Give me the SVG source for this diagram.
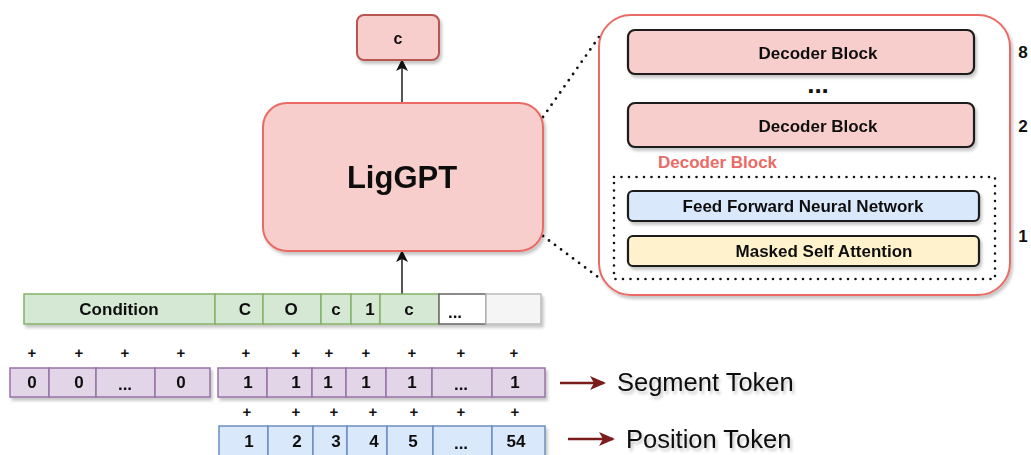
<svg xmlns="http://www.w3.org/2000/svg" width="1031" height="455" viewBox="0 0 1031 455">
<defs>
<filter id="sh" x="-10%" y="-10%" width="130%" height="140%"><feDropShadow dx="2" dy="3" stdDeviation="1.5" flood-color="#000" flood-opacity="0.22"/></filter>
<marker id="ah" markerWidth="12" markerHeight="12" refX="10" refY="6" orient="auto" markerUnits="userSpaceOnUse"><path d="M0,0 L12,6 L0,12 L3,6 Z" fill="#111"/></marker>
<marker id="rh" markerWidth="16" markerHeight="14" refX="14" refY="7" orient="auto" markerUnits="userSpaceOnUse"><path d="M0,0 L16,7 L0,14 L4,7 Z" fill="#7a1c1c"/></marker>
<style>
text{font-family:"Liberation Sans",Arial,sans-serif;fill:#111}
.b{font-weight:bold;font-size:17px;text-anchor:middle}
.p{font-weight:bold;font-size:15px;text-anchor:middle}
.g{fill:#d5e8d4;stroke:#82b366;stroke-width:1.5}
.s{fill:#e1d5e7;stroke:#9673a6;stroke-width:1.5}
.bl{fill:#dae8fc;stroke:#6c8ebf;stroke-width:1.5}
.dk{stroke:#1a1a1a;stroke-width:2.2}
.dot{fill:none;stroke:#111;stroke-width:2.8;stroke-linecap:round;stroke-dasharray:0 7.5}
.big{font-size:25.5px}
</style>
</defs>

<g id="connectors">
<line x1="402" y1="294" x2="402" y2="252" stroke="#555" stroke-width="2" marker-end="url(#ah)"/>
<line x1="402" y1="103" x2="402" y2="61" stroke="#555" stroke-width="2" marker-end="url(#ah)"/>
<line class="dot" x1="543" y1="117" x2="599" y2="37"/>
<line class="dot" x1="543" y1="236" x2="602" y2="280"/>
<line x1="560" y1="383" x2="604" y2="383" stroke="#7a1c1c" stroke-width="2.5" marker-end="url(#rh)"/>
<line x1="568" y1="439" x2="613" y2="439" stroke="#7a1c1c" stroke-width="2.5" marker-end="url(#rh)"/>
</g>

<g id="output-c" filter="url(#sh)">
<rect x="357" y="15" width="82" height="45" rx="7" fill="#f8cecc" stroke="#b85450" stroke-width="2"/>
<text class="b" x="398" y="44" style="font-size:16px">c</text>
</g>

<g id="liggpt" filter="url(#sh)">
<rect x="263" y="103" width="280" height="148" rx="24" fill="#f8cecc" stroke="#ea6b66" stroke-width="2"/>
<text x="402" y="188" style="font-weight:bold;font-size:31px;text-anchor:middle">LigGPT</text>
</g>

<g id="decoder-stack">
<rect x="599" y="15" width="411" height="280" rx="32" fill="#fff" stroke="#ea6b66" stroke-width="2" filter="url(#sh)"/>
<g id="decoder-8" filter="url(#sh)">
<rect class="dk" x="628" y="30" width="346" height="44" rx="7" fill="#f8cecc"/>
<text class="b" x="818" y="59">Decoder Block</text>
</g>
<text x="818" y="93" style="font-weight:bold;font-size:26px;text-anchor:middle">...</text>
<g id="decoder-2" filter="url(#sh)">
<rect class="dk" x="628" y="103" width="346" height="44" rx="7" fill="#f8cecc"/>
<text class="b" x="818" y="132">Decoder Block</text>
</g>
<text x="658" y="168" style="font-weight:bold;font-size:17px;fill:#ea6b66">Decoder Block</text>
<rect class="dot" x="614" y="177" width="381" height="102" style="stroke-width:2.6"/>
<g id="ffnn" filter="url(#sh)">
<rect class="dk" x="628" y="191" width="351" height="30" rx="5" fill="#dae8fc"/>
<text class="b" x="803" y="212">Feed Forward Neural Network</text>
</g>
<g id="msa" filter="url(#sh)">
<rect class="dk" x="628" y="236" width="351" height="30" rx="5" fill="#fff2cc"/>
<text class="b" x="824" y="257">Masked Self Attention</text>
</g>
<text class="b" x="1023" y="58">8</text>
<text class="b" x="1023" y="132">2</text>
<text class="b" x="1023" y="242">1</text>
</g>

<g id="input-tokens" filter="url(#sh)">
<rect class="g" x="24" y="294" width="191" height="30"/>
<rect class="g" x="215" y="294" width="48" height="30"/>
<rect class="g" x="263" y="294" width="58" height="30"/>
<rect class="g" x="321" y="294" width="30" height="30"/>
<rect class="g" x="351" y="294" width="29" height="30"/>
<rect class="g" x="380" y="294" width="59" height="30"/>
<rect x="439" y="294" width="47" height="30" fill="#fff" stroke="#666" stroke-width="1.5"/>
<rect x="486" y="294" width="55" height="30" fill="#f5f5f5" stroke="#bbb" stroke-width="1.5"/>
<text class="b" x="119" y="315">Condition</text>
<text class="b" x="245" y="315">C</text>
<text class="b" x="291" y="315">O</text>
<text class="b" x="336" y="315">c</text>
<text class="b" x="370" y="315">1</text>
<text class="b" x="409" y="315">c</text>
<text class="b" x="455" y="318">...</text>
</g>

<g id="plus-row-1">
<text class="p" x="32" y="358">+</text><text class="p" x="79" y="358">+</text><text class="p" x="125" y="358">+</text><text class="p" x="181" y="358">+</text>
<text class="p" x="246" y="358">+</text><text class="p" x="296" y="358">+</text><text class="p" x="329" y="358">+</text><text class="p" x="366" y="358">+</text><text class="p" x="412" y="358">+</text><text class="p" x="461" y="358">+</text><text class="p" x="514" y="358">+</text>
</g>

<g id="segment-tokens" filter="url(#sh)">
<rect class="s" x="10" y="368" width="39" height="29"/>
<rect class="s" x="49" y="368" width="47" height="29"/>
<rect class="s" x="96" y="368" width="59" height="29"/>
<rect class="s" x="155" y="368" width="55" height="29"/>
<rect class="s" x="218" y="368" width="49" height="29"/>
<rect class="s" x="267" y="368" width="45" height="29"/>
<rect class="s" x="312" y="368" width="34" height="29"/>
<rect class="s" x="346" y="368" width="40" height="29"/>
<rect class="s" x="386" y="368" width="46" height="29"/>
<rect class="s" x="432" y="368" width="60" height="29"/>
<rect class="s" x="492" y="368" width="53" height="29"/>
<text class="b" x="32" y="388">0</text><text class="b" x="79" y="388">0</text><text class="b" x="125" y="390">...</text><text class="b" x="181" y="388">0</text>
<text class="b" x="248" y="388">1</text><text class="b" x="296" y="388">1</text><text class="b" x="328" y="388">1</text><text class="b" x="366" y="388">1</text><text class="b" x="412" y="388">1</text><text class="b" x="461" y="390">...</text><text class="b" x="515" y="388">1</text>
</g>

<g id="plus-row-2">
<text class="p" x="247" y="417">+</text><text class="p" x="296" y="417">+</text><text class="p" x="334" y="417">+</text><text class="p" x="373" y="417">+</text><text class="p" x="414" y="417">+</text><text class="p" x="461" y="417">+</text><text class="p" x="515" y="417">+</text>
</g>

<g id="position-tokens" filter="url(#sh)">
<rect class="bl" x="219" y="426" width="49" height="32"/>
<rect class="bl" x="268" y="426" width="45" height="32"/>
<rect class="bl" x="313" y="426" width="34" height="32"/>
<rect class="bl" x="347" y="426" width="40" height="32"/>
<rect class="bl" x="387" y="426" width="46" height="32"/>
<rect class="bl" x="433" y="426" width="59" height="32"/>
<rect class="bl" x="492" y="426" width="53" height="32"/>
<text class="b" x="249" y="447">1</text><text class="b" x="297" y="447">2</text><text class="b" x="336" y="447">3</text><text class="b" x="374" y="447">4</text><text class="b" x="413" y="447">5</text><text class="b" x="461" y="449">...</text><text class="b" x="516" y="447">54</text>
</g>

<g id="legend" filter="url(#sh)">
<text class="big" x="617" y="391">Segment Token</text>
<text class="big" x="626" y="448">Position Token</text>
</g>
</svg>
